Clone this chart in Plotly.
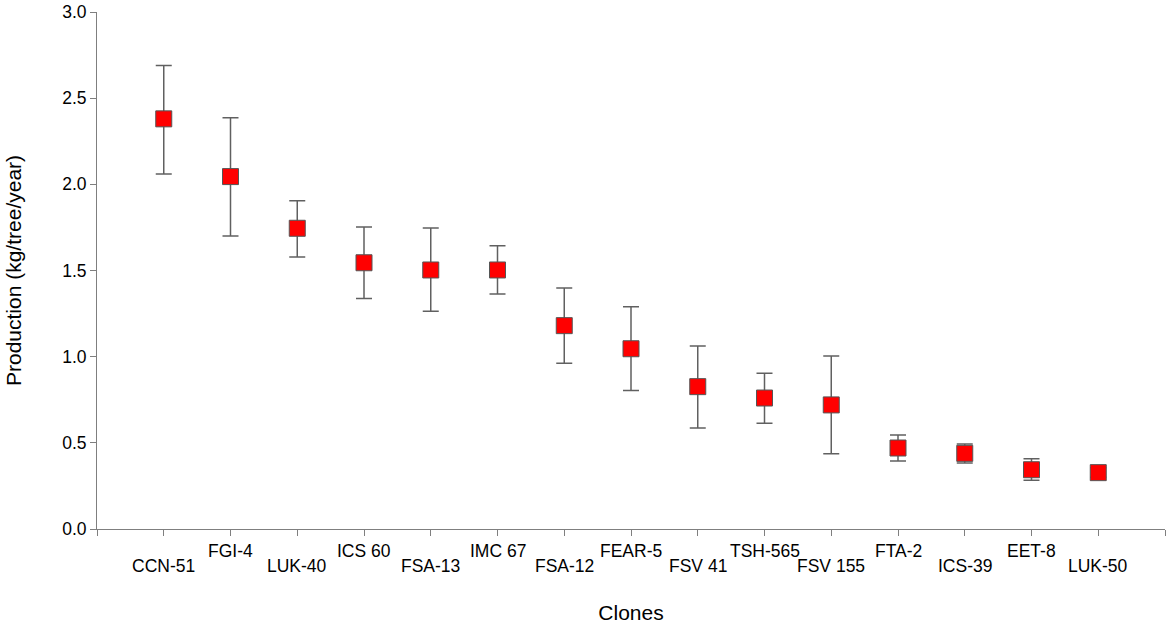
import plotly.graph_objects as go

clones = ["CCN-51", "FGI-4", "LUK-40", "ICS 60", "FSA-13", "IMC 67", "FSA-12",
          "FEAR-5", "FSV 41", "TSH-565", "FSV 155", "FTA-2", "ICS-39", "EET-8", "LUK-50"]
mean = [2.38, 2.045, 1.745, 1.545, 1.503, 1.503, 1.18, 1.046, 0.826, 0.760, 0.720, 0.470, 0.439, 0.344, 0.327]
upper = [2.69, 2.387, 1.905, 1.753, 1.747, 1.644, 1.399, 1.29, 1.062, 0.904, 1.004, 0.546, 0.493, 0.408, 0.355]
lower = [2.06, 1.70, 1.578, 1.337, 1.263, 1.364, 0.962, 0.803, 0.586, 0.613, 0.437, 0.395, 0.383, 0.283, 0.300]
y_ticks = [0.0, 0.5, 1.0, 1.5, 2.0, 2.5, 3.0]

pos = list(range(len(clones)))
err_plus = [u - m for u, m in zip(upper, mean)]
err_minus = [m - l for m, l in zip(mean, lower)]

FONT = "Liberation Sans, Arial, sans-serif"
AX = "#7f7f7f"

fig = go.Figure()
fig.add_trace(go.Scatter(
    x=pos, y=mean, mode="markers",
    marker=dict(symbol="square", size=16, color="#ff0000",
                line=dict(color="#555555", width=1)),
    error_y=dict(type="data", symmetric=False, array=err_plus, arrayminus=err_minus,
                 color="#606060", thickness=1.5, width=8),
    showlegend=False,
))

annotations = []
for i, name in enumerate(clones):
    annotations.append(dict(
        x=i, y=0, xref="x", yref="paper", text=name, showarrow=False,
        xanchor="center", yanchor="top", yshift=-10 if i % 2 else -25,
        font=dict(family=FONT, size=17.5, color="#000000"),
    ))

fig.update_layout(
    width=1170, height=626,
    margin=dict(l=97, r=5, t=12, b=97),
    paper_bgcolor="white", plot_bgcolor="white",
    font=dict(family=FONT, size=17.5, color="#000000"),
    annotations=annotations,
    hovermode=False,
    xaxis=dict(
        range=[-1, 15], tickmode="array", tickvals=list(range(-1, 16)),
        ticktext=[""] * 17, ticks="outside", ticklen=6, tickcolor=AX, tickwidth=1,
        showline=True, linecolor=AX, linewidth=1, showgrid=False, zeroline=False,
        automargin=False,
        title=dict(text="Clones", font=dict(family=FONT, size=21), standoff=66),
    ),
    yaxis=dict(
        range=[0, 3], tickmode="array", tickvals=y_ticks,
        ticktext=[f"{v:.1f}" for v in y_ticks],
        ticks="outside", ticklen=6, tickcolor=AX, tickwidth=1,
        showline=True, linecolor=AX, linewidth=1, showgrid=False, zeroline=False,
        automargin=False,
        tickfont=dict(family=FONT, size=17.5),
        title=dict(text="Production (kg/tree/year)", font=dict(family=FONT, size=21), standoff=34),
    ),
)

fig.write_html("out.html", config={"displayModeBar": False, "staticPlot": True},
               post_script="document.body.style.margin='0';")
